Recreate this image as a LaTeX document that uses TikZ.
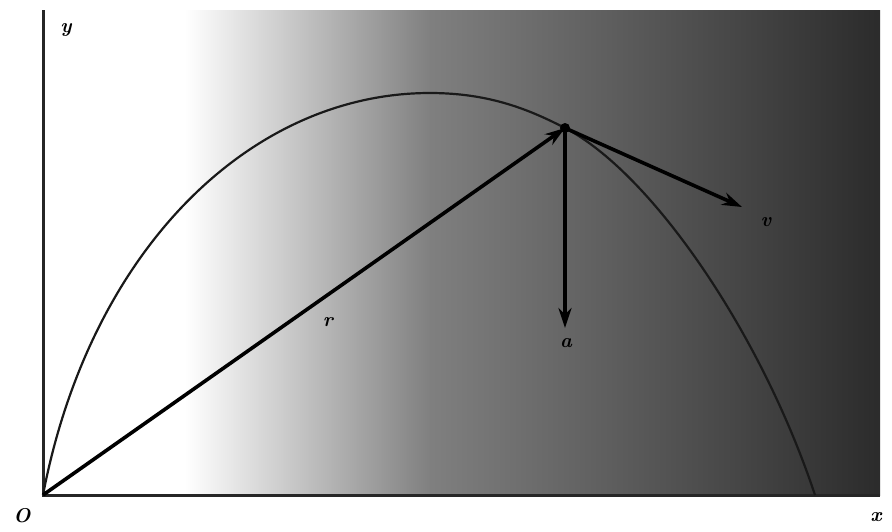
\documentclass[tikz,border=0pt]{standalone}
\usetikzlibrary{arrows.meta}
\begin{document}
\begin{tikzpicture}[x=1pt,y=-1pt,
  axisline/.style={line width=3pt,black!85},
  vec/.style={line width=3.6pt,black,-{Stealth[length=20pt,width=13pt]}},
  traj/.style={line width=2.2pt,black!90},
  lbl/.style={font=\fontsize{20}{24}\selectfont\bfseries\itshape,inner sep=0pt}]
\useasboundingbox (0,0) rectangle (892,531);
\fill[white] (0,0) rectangle (892,531);
% shaded background
\shade[left color=white,right color=black!50] (185,10) rectangle (430,495);
\shade[left color=black!50,right color=black!83] (429.5,10) rectangle (880,495);
% axes
\coordinate (O) at (43,495);
\coordinate (Ytop) at (43,10);
\coordinate (Xend) at (880,495);
\draw[axisline] (Ytop) -- (O) -- (Xend);
% trajectory
\coordinate (apex) at (430,93);
\coordinate (P) at (565,128);
\coordinate (E) at (815,495);
\draw[traj] (O) .. controls (90,250) and (250,93) .. (apex)
  .. controls (490,93) and (530,110) .. (P)
  .. controls (650,172) and (760,330) .. (E);
% vectors
\coordinate (Vend) at (742,207);
\coordinate (Aend) at (565,328);
\draw[vec] (O) -- (P);
\draw[vec] (P) -- (Vend);
\draw[vec] (P) -- (Aend);
\fill (P) circle (5pt);
% labels
\node[lbl] (ly) at (66,30) {y};
\node[lbl] (lO) at (22,516) {O};
\node[lbl] (lx) at (876,517) {x};
\node[lbl] (lr) at (328,322) {r};
\node[lbl] (la) at (566,343) {a};
\node[lbl] (lv) at (766,222) {v};
\end{tikzpicture}
\end{document}
